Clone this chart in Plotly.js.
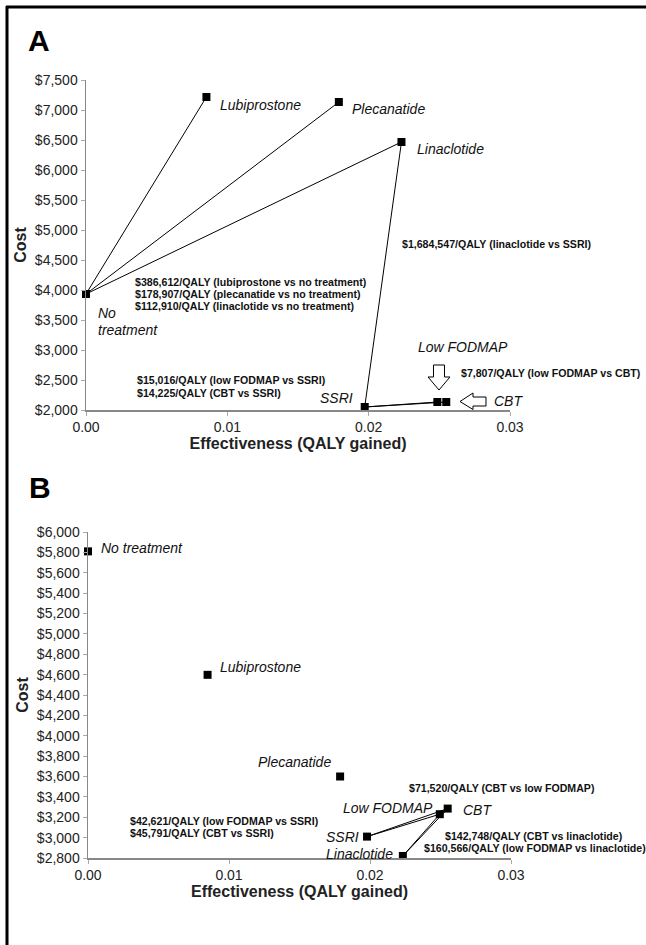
<!DOCTYPE html>
<html>
<head>
<meta charset="utf-8">
<script src="https://cdn.plot.ly/plotly-3.0.1.min.js"></script>
<style>html,body{margin:0;padding:0;background:#fff;}#chart{width:646px;height:945px;}</style>
</head>
<body>
<div id="chart"></div>
<script>
// ---------- DATA ----------
const names = ['No treatment','Lubiprostone','Plecanatide','Linaclotide','SSRI','Low FODMAP','CBT'];

// Panel A
const A_qaly = [0.0000, 0.00852, 0.01789, 0.02232, 0.01972, 0.02486, 0.02549];
const A_cost = [3933, 7217, 7133, 6467, 2050, 2133, 2133];
const A_links = [['No treatment','Lubiprostone'],['No treatment','Plecanatide'],['No treatment','Linaclotide'],
                 ['Linaclotide','SSRI'],['SSRI','Low FODMAP'],['SSRI','CBT']];
const A_icer = ['$386,612/QALY (lubiprostone vs no treatment)',
                '$178,907/QALY (plecanatide vs no treatment)',
                '$112,910/QALY (linaclotide vs no treatment)',
                '$1,684,547/QALY (linaclotide vs SSRI)',
                '$15,016/QALY (low FODMAP vs SSRI)',
                '$14,225/QALY (CBT vs SSRI)',
                '$7,807/QALY (low FODMAP vs CBT)'];

// Panel B
const B_qaly = [0.0000, 0.00848, 0.01788, 0.02233, 0.01979, 0.02495, 0.02551];
const B_cost = [5810, 4598, 3600, 2820, 3010, 3230, 3285];
const B_links = [['SSRI','Low FODMAP'],['SSRI','CBT'],['Linaclotide','Low FODMAP'],['Linaclotide','CBT'],['Low FODMAP','CBT']];
const B_icer = ['$71,520/QALY (CBT vs low FODMAP)',
                '$42,621/QALY (low FODMAP vs SSRI)',
                '$45,791/QALY (CBT vs SSRI)',
                '$142,748/QALY (CBT vs linaclotide)',
                '$160,566/QALY (low FODMAP vs linaclotide)'];

// ---------- HELPERS ----------
const W = 646, H = 945;
const fx = px => px / W;
const fy = py => 1 - py / H;
const FONT = 'Liberation Sans, Arial, sans-serif';

function linkTraces(links, qx, qy, xa, ya) {
  return links.map(([a, b]) => {
    const i = names.indexOf(a), j = names.indexOf(b);
    return {x: [qx[i], qx[j]], y: [qy[i], qy[j]], xaxis: xa, yaxis: ya, mode: 'lines',
            line: {color: '#000', width: 1}, hoverinfo: 'skip', showlegend: false, cliponaxis: false};
  });
}
function pointTrace(qx, qy, xa, ya) {
  return {x: qx, y: qy, text: names, xaxis: xa, yaxis: ya, mode: 'markers', type: 'scatter',
          marker: {symbol: 'square', size: 8, color: '#000'}, showlegend: false, cliponaxis: false};
}

const traces = [
  ...linkTraces(A_links, A_qaly, A_cost, 'x', 'y'),
  pointTrace(A_qaly, A_cost, 'x', 'y'),
  ...linkTraces(B_links, B_qaly, B_cost, 'x2', 'y2'),
  pointTrace(B_qaly, B_cost, 'x2', 'y2')
];

function ann(text, px, py, opt) {
  return Object.assign({text: text, xref: 'paper', yref: 'paper', x: fx(px), y: fy(py),
    xanchor: 'left', yanchor: 'middle', showarrow: false,
    font: {family: FONT, size: 14, color: '#111', style: 'italic'}}, opt || {});
}
function icer(text, px, py, opt) {
  return ann(text, px, py, Object.assign({font: {family: FONT, size: 10.6, color: '#111', weight: 'bold'}}, opt || {}));
}

const annotations = [
  // panel letters
  ann('A', 26, 40, {font: {family: FONT, size: 30, color: '#000', weight: 'bold'}}),
  ann('B', 27, 487, {font: {family: FONT, size: 30, color: '#000', weight: 'bold'}}),
  // Panel A labels
  ann('Lubiprostone', 218, 105),
  ann('Plecanatide', 350, 109),
  ann('Linaclotide', 415, 149),
  ann('No', 96, 313),
  ann('treatment', 96, 330),
  ann('SSRI', 355, 398, {xanchor: 'right'}),
  ann('Low FODMAP', 416, 347),
  ann('CBT', 492, 401),
  icer(A_icer[0], 133, 282),
  icer(A_icer[1], 133, 294),
  icer(A_icer[2], 133, 306),
  icer(A_icer[3], 400, 244),
  icer(A_icer[4], 135, 380),
  icer(A_icer[5], 135, 393),
  icer(A_icer[6], 459, 373),
  // Panel B labels
  ann('No treatment', 99, 548),
  ann('Lubiprostone', 218, 667),
  ann('Plecanatide', 333, 762, {xanchor: 'right'}),
  ann('Low FODMAP', 341, 808),
  ann('CBT', 461, 810),
  ann('SSRI', 324, 837),
  ann('Linaclotide', 324, 854),
  icer(B_icer[0], 407, 788),
  icer(B_icer[1], 128, 821),
  icer(B_icer[2], 128, 833),
  icer(B_icer[3], 443, 836),
  icer(B_icer[4], 422, 848)
];

function path(pts) {
  return 'M ' + pts.map(p => fx(p[0]).toFixed(5) + ',' + fy(p[1]).toFixed(5)).join(' L ') + ' Z';
}
const shapes = [
  // outer frame (top and left edges)
  {type: 'line', xref: 'paper', yref: 'paper', x0: fx(6), x1: 1, y0: fy(7), y1: fy(7), line: {color: '#000', width: 3}},
  {type: 'line', xref: 'paper', yref: 'paper', x0: fx(7), x1: fx(7), y0: fy(6), y1: 0, line: {color: '#000', width: 3}},
  // down arrow (Low FODMAP)
  {type: 'path', xref: 'paper', yref: 'paper', line: {color: '#000', width: 1}, fillcolor: '#fff',
   path: path([[433.5,365],[444.5,365],[444.5,377],[450,377],[439,390],[428,377],[433.5,377]])},
  // left arrow (CBT)
  {type: 'path', xref: 'paper', yref: 'paper', line: {color: '#000', width: 1}, fillcolor: '#fff',
   path: path([[486,397],[486,406],[473,406],[473,409.5],[460,401.5],[473,393],[473,397]])}
];

const axCommon = {
  showline: true, linecolor: '#888', linewidth: 1.5, ticks: 'outside', ticklen: 4, tickcolor: '#aaa',
  showgrid: false, zeroline: false, fixedrange: true,
  tickfont: {family: FONT, size: 14, color: '#222'}
};
const xTitle = {text: 'Effectiveness (QALY gained)', font: {family: FONT, size: 16, color: '#222', weight: 'bold'}, standoff: 3};
const yTitle = {text: 'Cost', font: {family: FONT, size: 16, color: '#222', weight: 'bold'}, standoff: 4};

const layout = {
  width: W, height: H, margin: {l: 0, r: 0, t: 0, b: 0},
  paper_bgcolor: '#fff', plot_bgcolor: 'rgba(0,0,0,0)', showlegend: false,
  xaxis: Object.assign({}, axCommon, {domain: [fx(86), fx(510)], range: [0, 0.03], dtick: 0.01, tick0: 0,
         tickformat: '.2f', anchor: 'y', title: xTitle}),
  yaxis: Object.assign({}, axCommon, {domain: [fy(410), fy(80)], range: [2000, 7500], dtick: 500, tick0: 0,
         tickprefix: '$', tickformat: ',d', anchor: 'x', title: yTitle}),
  xaxis2: Object.assign({}, axCommon, {domain: [fx(88), fx(511)], range: [0, 0.03], dtick: 0.01, tick0: 0,
         tickformat: '.2f', anchor: 'y2', title: xTitle}),
  yaxis2: Object.assign({}, axCommon, {domain: [fy(858), fy(532)], range: [2800, 6000], dtick: 200, tick0: 0,
         tickprefix: '$', tickformat: ',d', anchor: 'x2', title: yTitle}),
  annotations: annotations,
  shapes: shapes
};

Plotly.newPlot('chart', traces, layout, {staticPlot: true, displayModeBar: false});
</script>
</body>
</html>
